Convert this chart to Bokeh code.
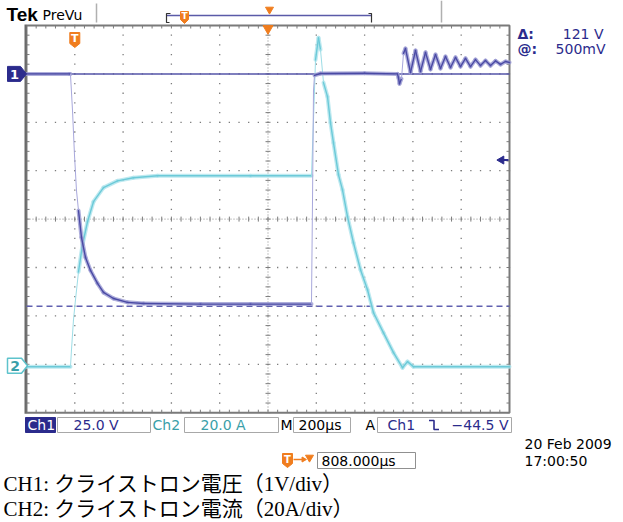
from bokeh.plotting import figure
from bokeh.models import Range1d
from bokeh.core.properties import value
from bokeh.embed import file_html
from bokeh.resources import INLINE

# ---------------- scope settings / data ----------------
CH1_SCALE = 25.0      # V/div
CH2_SCALE = 20.0      # A/div
TIME_SCALE = 200.0    # us/div
T_LEFT = -200.0       # time at left edge of graticule (us, relative to trigger)
CH1_POS = 3.0         # div above centre (ground marker 1)
CH2_POS = -3.03       # div (ground marker 2)
TRIG_LEVEL = -44.5    # V
CURSOR_A = 0.0        # V (solid cursor)
CURSOR_B = -120.0     # V (dashed cursor)

# Ch1: klystron voltage (V) vs time (us)
ch1_t = [-200, -22, -18, -9.5, -1.2, 7.0, 15.3, 27.7, 44.3, 65.0, 94.0, 118.8, 160.2,
         218.2, 284.5, 520.5, 727.5, 980.1, 984.3, 988.4, 992.5, 1017.4, 1200, 1336,
         1340.4, 1344.5, 1352.8, 1361.1, 1369.4, 1390.1, 1410.8, 1431.5, 1452.2, 1472.9,
         1493.6, 1514.3, 1535.0, 1555.7, 1576.4, 1597.1, 1617.8, 1638.5, 1659.2, 1679.9,
         1700.6, 1721.3, 1742.0, 1762.7, 1783.4, 1800]
ch1_v = [0, 0, 0, -18.9, -42.1, -60.2, -70.6, -84.5, -94.8, -101.5, -108.2, -112.9, -116.0,
         -118.0, -118.6, -118.9, -118.9, -118.9, -65.4, -8.6, -0.8, 0.2, 0.3, 0,
         -2.0, -5.1, -2.5, 10.6, 13.1, 0.7, 12.1, 1.2, 11.1, 2.3,
         10.0, 2.8, 9.0, 3.3, 8.5, 3.8, 8.0, 3.8, 7.4, 4.3,
         6.9, 4.3, 6.7, 4.9, 6.4, 5.9]

# Ch2: klystron current (A) vs time (us)
ch2_t = [-200, -17.8, -13.7, -5.4, 2.9, 15.3, 31.9, 52.6, 77.4, 118.8, 176.8, 243.1, 342.4,
         727.5, 980.1, 988.4, 996.7, 1009.1, 1017.4, 1029.8, 1046.4, 1058.8, 1071.2, 1091.9,
         1108.5, 1129.2, 1154.0, 1183.0, 1212.0, 1236.9, 1278.3, 1319.7, 1357.0, 1377.6,
         1402.5, 1800]
ch2_a = [-0.4, -0.4, 6.6, 19.0, 27.3, 38.8, 50.0, 59.5, 67.8, 73.6, 76.4, 77.7, 78.5,
         78.5, 78.5, 101.7, 126.4, 135.5, 130.6, 117.0, 111.2, 100.4, 92.1, 78.9,
         72.7, 61.6, 50.8, 39.7, 31.4, 21.9, 13.6, 5.4, -0.8, 1.7,
         -0.4, -0.4]

status_texts = ["Ch1", "25.0 V", "Ch2", "20.0 A", "M", "200µs", "A", "Ch1", "−44.5 V"]
cursor_texts = ["Δ:", "121 V", "@:", "500mV"]
date_texts = ["20 Feb  2009", "17:00:50"]
delay_text = "808.000µs"
captions = ["CH1: クライストロン電圧（1V/div）", "CH2: クライストロン電流（20A/div）"]

# ---------------- layout (pixels) ----------------
W, H = 623, 522
GX0, GY0 = 26.0, 25.0
DIVX, DIVY = 48.3, 48.4
GX1, GY1 = GX0 + 10 * DIVX, GY0 + 8 * DIVY

V1_TOP = (4 - CH1_POS) * CH1_SCALE
A2_TOP = (4 - CH2_POS) * CH2_SCALE

x0 = T_LEFT - GX0 / DIVX * TIME_SCALE
x1 = x0 + W / DIVX * TIME_SCALE
y1_top = V1_TOP + GY0 / DIVY * CH1_SCALE
y1_bot = y1_top - H / DIVY * CH1_SCALE
y2_top = A2_TOP + GY0 / DIVY * CH2_SCALE
y2_bot = y2_top - H / DIVY * CH2_SCALE


def px_x(t):
    return GX0 + (t - T_LEFT) / TIME_SCALE * DIVX


def px_y1(v):
    return GY0 + (V1_TOP - v) / CH1_SCALE * DIVY


def px_y2(a):
    return GY0 + (A2_TOP - a) / CH2_SCALE * DIVY


DARK = "#2b2b8c"
CH1_COL = "#4a4aa4"
CH1_HALO = "#9a9ad2"
CH1_FAST = "#a8a8dc"
CH2_COL = "#6ccad8"
CH2_HALO = "#aee4ec"
CH2_FAST = "#9ddde6"
TEAL = "#3a9fa9"
ORANGE = "#f07d1e"
GRAT = "#7c7c7c"
FONT = "DejaVu Sans"

p = figure(width=W, height=H, x_range=Range1d(x0, x1), y_range=Range1d(y1_bot, y1_top),
           x_axis_location=None, y_axis_location=None, output_backend="svg",
           toolbar_location=None, min_border=0, outline_line_color=None,
           background_fill_color="white", border_fill_color="white")
p.grid.visible = False
p.extra_x_ranges = {"px": Range1d(0, W)}
p.extra_y_ranges = {"ch2": Range1d(y2_bot, y2_top), "px": Range1d(H, 0)}

PX = dict(x_range_name="px", y_range_name="px")


def txt(x, y, s, size=14, color="black", font=FONT, align="left", bold=False):
    p.text(x=[x], y=[y], text=[s], text_font=value(font), text_font_size=f"{size}px",
           text_color=color, text_align=align, text_baseline="middle",
           text_font_style="bold" if bold else "normal", **PX)


def seg(xs0, ys0, xs1, ys1, color=GRAT, width=1.0, dash="solid"):
    p.segment(x0=xs0, y0=ys0, x1=xs1, y1=ys1, line_color=color, line_width=width,
              line_dash=dash, **PX)


# ---------------- graticule ----------------
dx, dy = [], []
for k in range(1, 10):
    if k == 5:
        continue
    x = GX0 + k * DIVX
    for m in range(0, 41):
        dx.append(x)
        dy.append(GY0 + m * DIVY / 5)
for j in range(1, 8):
    if j == 4:
        continue
    y = GY0 + j * DIVY
    for m in range(0, 51):
        dx.append(GX0 + m * DIVX / 5)
        dy.append(y)
p.rect(x=dx, y=dy, width=1.3, height=1.3, width_units="screen", height_units="screen",
       fill_color=GRAT, line_color=None, **PX)

# centre lines (dotted) with ticks
cx, cy = GX0 + 5 * DIVX, GY0 + 4 * DIVY
seg([GX0, cx], [cy, GY0], [GX1, cx], [cy, GY1], color="#8a8a8a", width=1, dash="1 2")
tx = [GX0 + m * DIVX / 5 for m in range(51)]
ty = [GY0 + m * DIVY / 5 for m in range(41)]
seg(tx, [cy - 2.5] * len(tx), tx, [cy + 2.5] * len(tx), color=GRAT, width=1)
seg([cx - 2.5] * len(ty), ty, [cx + 2.5] * len(ty), ty, color=GRAT, width=1)

# border ticks
seg(tx, [GY0] * len(tx), tx, [GY0 + 3] * len(tx), color=GRAT, width=1)
seg(tx, [GY1] * len(tx), tx, [GY1 - 3] * len(tx), color=GRAT, width=1)
seg([GX0] * len(ty), ty, [GX0 + 3] * len(ty), ty, color=GRAT, width=1)
seg([GX1] * len(ty), ty, [GX1 - 3] * len(ty), ty, color=GRAT, width=1)

# border
p.quad(left=[GX0], right=[GX1], top=[GY0], bottom=[GY1], fill_color=None,
       line_color="#7a7a7a", line_width=2, **PX)
seg([GX0 - 1], [GY0 - 1], [GX0 - 1], [GY1 + 1], color="#6a6a6a", width=2)

# ---------------- cursors ----------------
p.line([T_LEFT, T_LEFT + 10 * TIME_SCALE], [CURSOR_A, CURSOR_A], line_color="#5555a8",
       line_width=1.5)
p.line([T_LEFT, T_LEFT + 10 * TIME_SCALE], [CURSOR_B, CURSOR_B], line_color="#6060b0",
       line_width=1.5, line_dash="6 4")


# ---------------- traces ----------------
def trace(t, v, ymap, core, halo, fast, yname="default"):
    """Draw a scope trace: fast edges thin & faint, slow parts with a noise halo."""
    xs0, ys0, xs1, ys1, hw, cw, cc = [], [], [], [], [], [], []
    for i in range(len(t) - 1):
        ddx = abs(px_x(t[i + 1]) - px_x(t[i]))
        ddy = abs(ymap(v[i + 1]) - ymap(v[i]))
        is_fast = ddy > 9.2 * max(ddx, 1e-6)
        xs0.append(t[i]); ys0.append(v[i]); xs1.append(t[i + 1]); ys1.append(v[i + 1])
        hw.append(0.0 if is_fast else 4.0)
        cw.append(1.0 if is_fast else 1.4)
        cc.append(fast if is_fast else core)
    kw = {} if yname == "default" else {"y_range_name": yname}
    p.segment(x0=xs0, y0=ys0, x1=xs1, y1=ys1, line_color=halo, line_width=hw,
              line_alpha=0.8, line_cap="round", **kw)
    p.segment(x0=xs0, y0=ys0, x1=xs1, y1=ys1, line_color=cc, line_width=cw,
              line_cap="round", **kw)


trace(ch2_t, ch2_a, px_y2, CH2_COL, CH2_HALO, CH2_FAST, "ch2")
trace(ch1_t, ch1_v, px_y1, CH1_COL, CH1_HALO, CH1_FAST)

# ---------------- channel markers ----------------
g1 = px_y1(0.0)
p.patch([7, 20, 26, 20, 7], [g1 - 7.5, g1 - 7.5, g1, g1 + 7.5, g1 + 7.5],
        fill_color=DARK, line_color=DARK, **PX)
txt(14, g1 + 0.5, "1", size=13, color="white", bold=True, align="center")
g2 = px_y2(0.0)
p.patch([7, 21, 27, 21, 7], [g2 - 7.5, g2 - 7.5, g2, g2 + 7.5, g2 + 7.5],
        fill_color="white", line_color="#5ec3cc", line_width=1.5, **PX)
txt(14.5, g2 + 0.5, "2", size=14, color=TEAL, bold=True, align="center")

# trigger level arrow (right)
tl = px_y1(TRIG_LEVEL)
p.scatter(x=[501], y=[tl], marker="triangle", angle=1.5708, size=8, fill_color=DARK,
          line_color=DARK, **PX)
seg([501], [tl], [508], [tl], color=DARK, width=2)


# trigger T badge and expansion-point triangle
def badge(cxp, ytop, w=10, h=15, size=11):
    p.patch([cxp - w / 2, cxp + w / 2, cxp + w / 2, cxp, cxp - w / 2],
            [ytop, ytop, ytop + h - 4, ytop + h, ytop + h - 4],
            fill_color=ORANGE, line_color=ORANGE, **PX)
    txt(cxp, ytop + (h - 4) / 2 + 0.5, "T", size=size, color="white", bold=True, align="center")


badge(px_x(0.0), 32)
p.scatter(x=[px_x(T_LEFT + 5 * TIME_SCALE)], y=[28], marker="inverted_triangle", size=10,
          fill_color=ORANGE, line_color=ORANGE, **PX)

# ---------------- header ----------------
txt(6, 14, "Tek", size=19, font="Liberation Sans", bold=True)
txt(42, 14, "PreVu", size=14)
seg([96, 441], [3, 0], [96, 441], [22, 22], color="#b0b0b0", width=1.5)
seg([166], [15], [371], [15], color="#5a5aa8", width=1.5)
p.line([170, 166, 166, 169], [13, 13, 22, 22], line_color="#333333", line_width=1.2, **PX)
p.line([368, 371, 371], [13, 13, 22], line_color="#333333", line_width=1.2, **PX)
badge(184, 11, w=8, h=12, size=9)
p.scatter(x=[269], y=[9], marker="inverted_triangle", size=8, fill_color=ORANGE,
          line_color=ORANGE, **PX)

# cursor readouts
txt(517, 33, cursor_texts[0], color=DARK, bold=True)
txt(603, 33, cursor_texts[1], color=DARK, align="right")
txt(517, 48, cursor_texts[2], color=DARK, bold=True)
txt(605, 48, cursor_texts[3], color=DARK, align="right")

# ---------------- status bar ----------------
SY = 424.5
p.quad(left=[25], right=[55], top=[417], bottom=[432], fill_color=DARK, line_color=DARK, **PX)
p.quad(left=[57, 184, 293, 377], right=[150, 278, 350, 511], top=[417] * 4,
       bottom=[432] * 4, fill_color=None, line_color="#a8a8a8", line_width=1, **PX)
txt(27, SY, status_texts[0], size=14, color="white")
txt(73, SY, status_texts[1], size=14, color=DARK)
txt(152, SY, status_texts[2], size=14, color=TEAL)
txt(200, SY, status_texts[3], size=14, color=TEAL)
txt(280, SY, status_texts[4], size=14)
txt(298, SY, status_texts[5], size=14)
txt(365, SY, status_texts[6], size=14)
txt(387, SY, status_texts[7], size=14, color=DARK)
p.line([428.5, 433.5, 433.5, 438.5], [420, 420, 429, 429], line_color=DARK, line_width=1.6, **PX)
txt(508, SY, status_texts[8], size=14, color=DARK, align="right")

# date/time
txt(524, 443, date_texts[0], size=14)
txt(524, 460, date_texts[1], size=14)

# trigger delay
badge(287, 453, w=10, h=14, size=10)
seg([293], [459], [302], [459], color=ORANGE, width=1.5)
p.scatter(x=[303], y=[459], marker="triangle", angle=-1.5708, size=5, fill_color=ORANGE,
          line_color=ORANGE, **PX)
p.scatter(x=[309], y=[457], marker="inverted_triangle", size=8, fill_color=ORANGE,
          line_color=ORANGE, **PX)
p.quad(left=[317], right=[415], top=[452], bottom=[468], fill_color=None,
       line_color="#909090", line_width=1, **PX)
txt(321, 460, delay_text, size=14)

# captions
CAP_FONT = "Liberation Serif, Noto Sans CJK JP"
txt(3, 483, captions[0], size=21, font=CAP_FONT)
txt(3, 508, captions[1], size=21, font=CAP_FONT)

open("out.html", "w").write(file_html(p, INLINE))
